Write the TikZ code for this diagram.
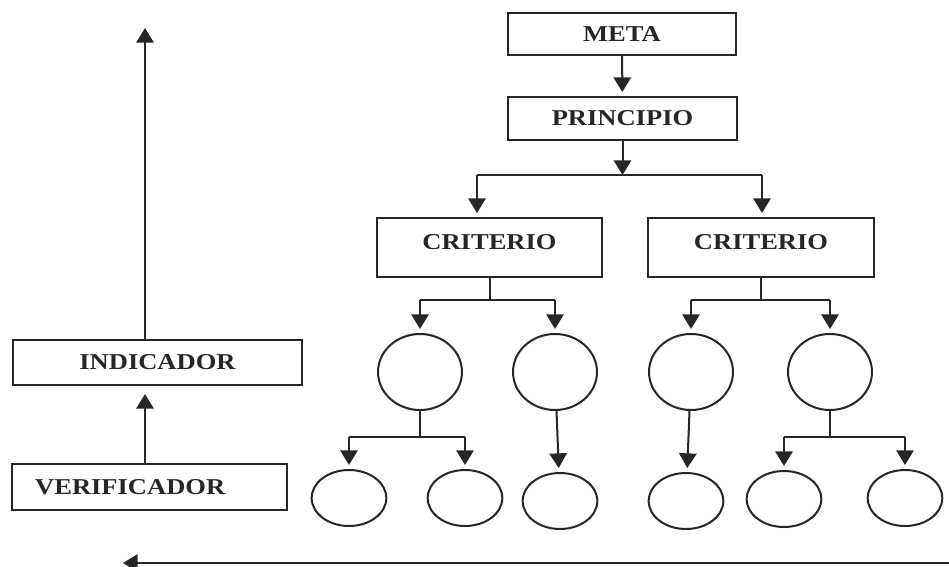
\documentclass[tikz,border=0pt]{standalone}
\usepackage{fontspec}
\newfontfamily\lblfont{Liberation Serif}[FakeStretch=1.17]
\usetikzlibrary{arrows.meta,shapes.geometric}
\tikzset{
  box/.style={rectangle, draw, font=\lblfont\bfseries\fontsize{17}{20}\selectfont},
  bubble/.style={ellipse, draw, inner sep=0pt, minimum width=63pt, minimum height=57pt},
  leaf/.style={ellipse, draw, inner sep=0pt, minimum width=56pt, minimum height=42pt},
  arr/.style={-{Triangle[width=13pt,length=11pt]}, shorten >=3pt}
}
\begin{document}
\begin{tikzpicture}[x=0.75pt, y=-0.75pt, line width=1.5pt, black!85]
  \useasboundingbox (0,0) rectangle (949,567);
  % boxes of the tree
  \node (meta) [box, minimum width=171pt, minimum height=31.5pt] at (622,34) {META};
  \node (princ) [box, minimum width=171.75pt, minimum height=32.25pt] at (622.5,118.5) {PRINCIPIO};
  \node (crit1) [box, minimum width=168.75pt, minimum height=44.25pt, text depth=8pt] at (489.5,247.5) {CRITERIO};
  \node (crit2) [box, minimum width=169.5pt, minimum height=44.25pt, text depth=8pt] at (761,247.5) {CRITERIO};
  % first row of ellipses
  \node (c1) [bubble] at (420,372) {};
  \node (c2) [bubble] at (555,372) {};
  \node (c3) [bubble] at (691,372) {};
  \node (c4) [bubble] at (830,372) {};
  % second row
  \node (d1) [leaf] at (349,498) {};
  \node (d2) [leaf] at (465,498) {};
  \node (d3) [leaf] at (560,501) {};
  \node (d4) [leaf] at (686,501) {};
  \node (d5) [leaf] at (784,499) {};
  \node (d6) [leaf] at (905,498) {};
  % left column
  \node (indic) [box, minimum width=216.75pt, minimum height=33.75pt] at (157.5,362.5) {INDICADOR};
  \node (verif) [box, text width=171.5pt, inner xsep=17.25pt, minimum height=34.5pt, align=left] at (149.5,487) {VERIFICADOR};
  \coordinate (up) at (145,28);
  \coordinate (sL) at (477,175);
  \coordinate (sR) at (762,175);
  \coordinate (botL) at (123,563);
  \coordinate (botR) at (949,563);

  \draw[arr] (meta) -- (princ);
  \draw[arr, shorten >=0pt] (princ) -- (princ.south |- sL);
  \draw (sL) -- (sR);
  \draw[arr] (sL) -- (sL |- crit1.north);
  \draw[arr] (sR) -- (sR |- crit2.north);

  \draw (crit1.south) -- ++(0,22) coordinate (k1);
  \draw (k1 -| c1) -- (k1 -| c2);
  \draw[arr] (k1 -| c1) -- (c1);
  \draw[arr] (k1 -| c2) -- (c2);
  \draw (crit2.south) -- ++(0,22) coordinate (k2);
  \draw (k2 -| c3) -- (k2 -| c4);
  \draw[arr] (k2 -| c3) -- (c3);
  \draw[arr] (k2 -| c4) -- (c4);

  \draw (c1.south) -- ++(0,26) coordinate (k3);
  \draw (k3 -| d1) -- (k3 -| d2);
  \draw[arr] (k3 -| d1) -- (d1);
  \draw[arr] (k3 -| d2) -- (d2);
  \draw[arr] (c2) -- (d3);
  \draw[arr] (c3) -- (d4);
  \draw (c4.south) -- ++(0,26) coordinate (k4);
  \draw (k4 -| d5) -- (k4 -| d6);
  \draw[arr] (k4 -| d5) -- (d5);
  \draw[arr] (k4 -| d6) -- (d6);

  \draw[arr, shorten >=0pt] (indic.north -| up) -- (up);
  \draw[arr, shorten >=6pt] (verif.north -| up) -- (indic.south -| up);
  \draw[arr, shorten >=0pt] (botR) -- (botL);
\end{tikzpicture}
\end{document}
